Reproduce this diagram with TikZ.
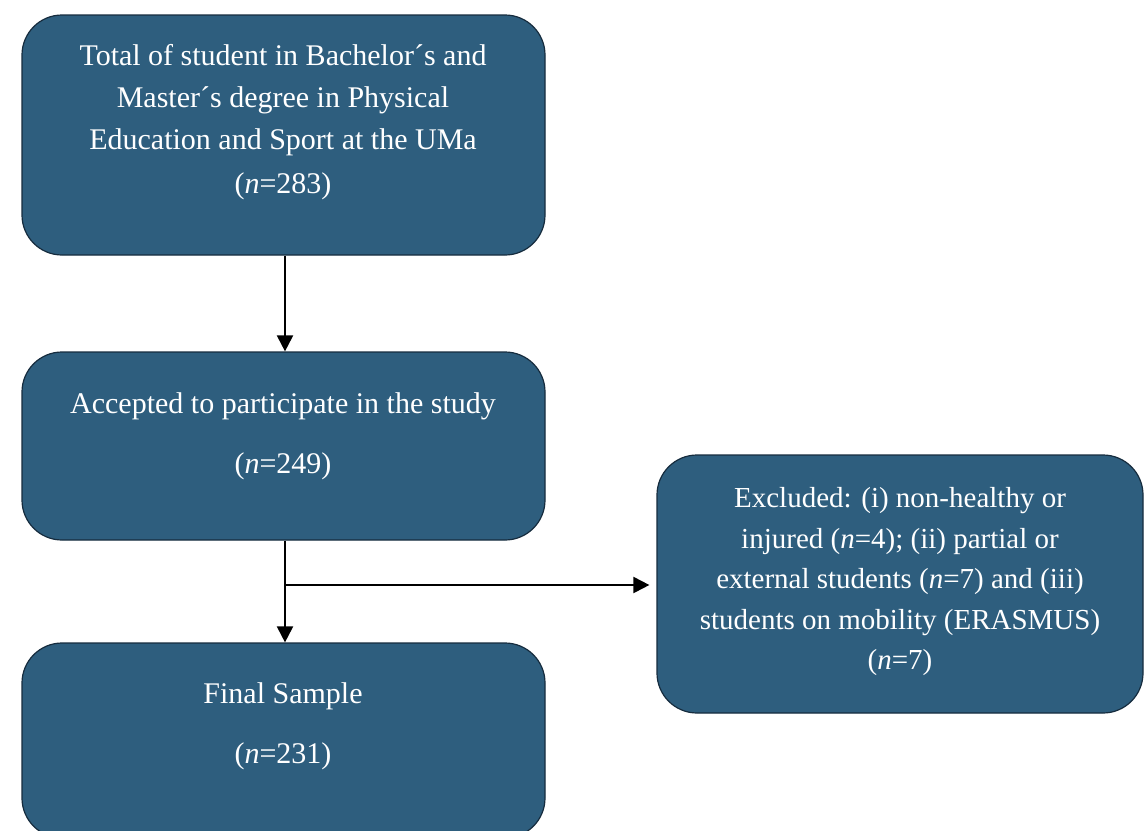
\documentclass[tikz,border=0pt]{standalone}
\usepackage{fontspec}
\setmainfont{Liberation Serif}
\usetikzlibrary{arrows.meta}
\definecolor{boxfill}{RGB}{46,94,126}
\definecolor{boxline}{RGB}{22,44,62}
\begin{document}
\begin{tikzpicture}[x=1pt,y=-1pt,
  box/.style={draw=boxline, line width=1.2pt, fill=boxfill, rounded corners=40pt, inner sep=0pt},
  txt/.style={text=white, font=\fontsize{30}{42}\selectfont, align=center, inner sep=0pt},
  txtb/.style={text=white, font=\fontsize{29}{40.5}\selectfont, align=center, inner sep=0pt},
  arr/.style={-{Triangle[length=16pt,width=16pt]}, line width=2pt, draw=black}]
\clip (0,0) rectangle (1145,830);
\fill[white] (0,0) rectangle (1145,830);
% boxes
\node[box, minimum width=523pt, minimum height=240pt] (b1) at (283.5,135) {};
\node[box, minimum width=523pt, minimum height=188pt] (b2) at (283.5,446) {};
\node[box, minimum width=523pt, minimum height=195pt] (b3) at (283.5,740.5) {};
\node[box, minimum width=486pt, minimum height=258pt] (b4) at (900,584) {};
% texts
\node[txt] (t1) at (283,100) {Total of student in Bachelor´s and\\Master´s degree in Physical\\Education and Sport at the UMa};
\node[txt] (n1) at (283,186) {(\textit{n}=283)};
\node[txt] (t2) at (283,406) {Accepted to participate in the study};
\node[txt] (n2) at (283,466) {(\textit{n}=249)};
\node[txt] (t3) at (283,696) {Final Sample};
\node[txt] (n3) at (283,756) {(\textit{n}=231)};
\node[txtb] (t4) at (900,582) {Excluded: (i) non-healthy or\\injured (\textit{n}=4); (ii) partial or\\external students (\textit{n}=7) and (iii)\\students on mobility (ERASMUS)\\(\textit{n}=7)};
% connectors
\coordinate (j) at (285,585);
\draw[arr] (b1.south -| j) -- (b2.north -| j);
\draw[arr] (b2.south -| j) -- (b3.north -| j);
\draw[arr] (j) -- ([xshift=-7pt]b4.west |- j);
\end{tikzpicture}
\end{document}
